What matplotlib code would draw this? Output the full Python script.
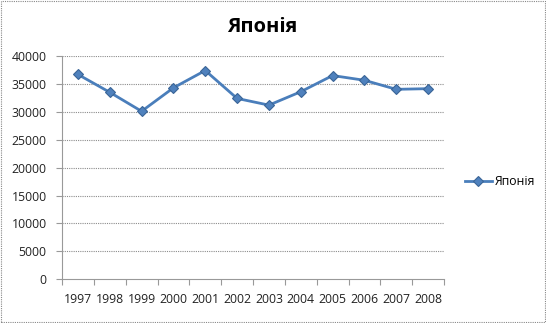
import matplotlib
matplotlib.use("Agg")
import matplotlib.pyplot as plt
from matplotlib.patches import Rectangle

years = ["1997", "1998", "1999", "2000", "2001", "2002",
         "2003", "2004", "2005", "2006", "2007", "2008"]
values = [36700, 33500, 30100, 34300, 37400, 32400,
          31200, 33600, 36500, 35650, 34030, 34150]
series_name = "Японія"
title = "Японія"
y_ticks = [0, 5000, 10000, 15000, 20000, 25000, 30000, 35000, 40000]

plt.rcParams['font.family'] = ['Open Sans', 'DejaVu Sans']

fig = plt.figure(figsize=(5.46, 3.23), dpi=100)
ax = fig.add_axes([62/546, 1-279.3/323, (444-62)/546, (279.3-56)/323])

x = list(range(len(years)))
line_color = "#4A7EBB"
ax.plot(x, values, color=line_color, lw=2.0, marker="D", ms=5.5,
        markerfacecolor="#4F81BD", markeredgecolor="#3A6597", markeredgewidth=0.8,
        label=series_name, zorder=3)

ax.set_xlim(-0.5, len(years) - 0.5)
ax.set_ylim(0, 40000)
ax.set_yticks(y_ticks)
ax.set_yticklabels([str(v) for v in y_ticks], fontsize=8.8, color="#222222")
ax.set_xticks(x)
ax.set_xticklabels(years, fontsize=8.8, color="#222222")
ax.tick_params(axis='x', length=0, pad=10)
ax.set_xticks([i - 0.5 for i in range(len(years) + 1)], minor=True)
ax.tick_params(axis='x', which='minor', length=4, color="#999999", width=0.8)
ax.tick_params(axis='y', length=4, color="#999999", width=0.8, pad=7)

for v in y_ticks[1:]:
    ax.axhline(v, color="#8c8c8c", lw=0.8, ls=(0, (1, 1)), zorder=1)

for s in ["top", "right"]:
    ax.spines[s].set_visible(False)
for s in ["left", "bottom"]:
    ax.spines[s].set_color("#999999")
    ax.spines[s].set_linewidth(0.8)
ax.spines["left"].set_linestyle((0, (1, 1)))

fig.text(262/546, 1-27/323, title, ha="center", va="center",
         fontsize=14.5, fontweight="bold", color="#000000")

fig.legend(loc="center left", bbox_to_anchor=(465/546, 1-182/323),
           frameon=False, fontsize=8.8, handlelength=2.2, handletextpad=0.2,
           borderaxespad=0, borderpad=0)

fig.patches.append(Rectangle((1/546, 1/323), 544/546, 321/323, transform=fig.transFigure,
                             fill=False, edgecolor="#888888", lw=0.8, ls=(0, (1, 1))))

fig.savefig("out.png", dpi=100)
